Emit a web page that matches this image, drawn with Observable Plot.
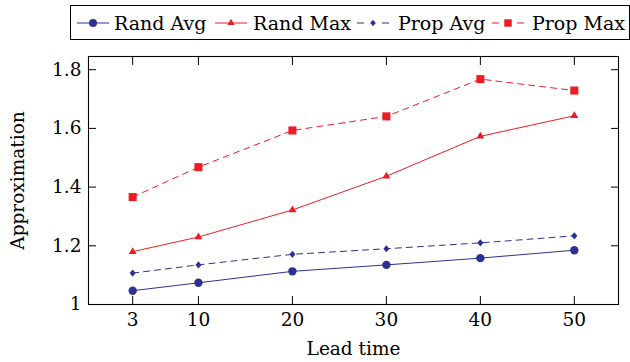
<!DOCTYPE html>
<html><head><meta charset="utf-8">
<script src="https://cdn.jsdelivr.net/npm/d3@7"></script>
<script src="https://cdn.jsdelivr.net/npm/@observablehq/plot@0.6"></script>
<style>
html,body{margin:0;padding:0;background:#fff;overflow:hidden}
#wrap{position:relative;width:630px;height:362px;font-family:"DejaVu Serif",serif}
#legend{position:absolute;left:70px;top:5px;width:560px;height:35px;border:1.3px solid #000;box-sizing:border-box}
.lg-text{position:absolute;top:5px;font-size:19px;line-height:24px;white-space:nowrap;color:#000;font-family:"DejaVu Serif",serif}
.lg-sample{position:absolute;top:10px}
#chart{position:absolute;left:0;top:45px}
</style></head>
<body><div id="wrap"><div id="legend"></div><div id="chart"></div></div>
<script>
// ---- data ----
const leadTimes = [3, 10, 20, 30, 40, 50];
const seriesNames = ["Rand Avg", "Rand Max", "Prop Avg", "Prop Max"];
const randAvg = [1.047, 1.074, 1.113, 1.135, 1.158, 1.185];
const randMax = [1.18, 1.23, 1.322, 1.437, 1.573, 1.643];
const propAvg = [1.107, 1.135, 1.171, 1.19, 1.21, 1.234];
const propMax = [1.366, 1.468, 1.593, 1.641, 1.768, 1.729];
const yTicks = [1, 1.2, 1.4, 1.6, 1.8];
const xTicks = [3, 10, 20, 30, 40, 50];

// ---- styles ----
const BLUE = "#2e3192", RED = "#ed1c24";
const sqSym = {draw(ctx, size){const r = Math.sqrt(size/Math.PI)*0.96; ctx.rect(-r,-r,2*r,2*r);}};
const triSym = {draw(ctx, size){const r = Math.sqrt(size/Math.PI)*1.08; ctx.moveTo(0,-r); ctx.lineTo(r*0.866,r*0.5); ctx.lineTo(-r*0.866,r*0.5); ctx.closePath();}};
const diaSym = {draw(ctx, size){const r = Math.sqrt(size/Math.PI); ctx.moveTo(0,-r*0.85); ctx.lineTo(r*0.72,0); ctx.lineTo(0,r*0.85); ctx.lineTo(-r*0.72,0); ctx.closePath();}};
const styles = [
  {values: randAvg, color: BLUE, dash: null, symbol: "circle", r: 4.2},
  {values: randMax, color: RED, dash: null, symbol: triSym, r: 4.2},
  {values: propAvg, color: BLUE, dash: "6,5", symbol: diaSym, r: 4.2},
  {values: propMax, color: RED, dash: "6,5", symbol: sqSym, r: 4.2}
];

const marks = [];
styles.forEach((s, i) => {
  const rows = leadTimes.map((x, j) => ({x, y: s.values[j], series: seriesNames[i]}));
  marks.push(Plot.line(rows, {x: "x", y: "y", stroke: s.color, strokeWidth: 1, strokeDasharray: s.dash}));
  marks.push(Plot.dot(rows, {x: "x", y: "y", fill: s.color, stroke: "none", symbol: s.symbol, r: s.r}));
});

const chart = Plot.plot({
  width: 630, height: 317,
  marginLeft: 88, marginRight: 12, marginTop: 11, marginBottom: 58,
  style: {fontFamily: "'DejaVu Serif', serif", fontSize: "18.5px", background: "#fff", color: "#000"},
  x: {domain: [-1.7, 54.7]},
  y: {domain: [1, 1.845]},
  marks: [
    ...marks,
    Plot.frame({stroke: "#000", strokeWidth: 1.1}),
    Plot.axisX(xTicks, {anchor: "bottom", tickSize: 8, text: null, label: null, dy: -8, stroke: "#000"}),
    Plot.axisX(xTicks, {anchor: "top", tickSize: 8, text: null, label: null, dy: 8, stroke: "#000"}),
    Plot.axisY(yTicks, {anchor: "left", tickSize: 8, text: null, label: null, dx: 8, stroke: "#000"}),
    Plot.axisY(yTicks, {anchor: "right", tickSize: 8, text: null, label: null, dx: -8, stroke: "#000"}),
    Plot.axisX(xTicks, {anchor: "bottom", tickSize: 0, tickPadding: 8, label: "Lead time", labelAnchor: "center", labelOffset: 50, labelArrow: "none"}),
    Plot.axisY(yTicks, {anchor: "left", tickSize: 0, tickPadding: 7, tickFormat: d => d === 1 ? "1" : d.toFixed(1), label: "Approximation", labelAnchor: "center", labelOffset: 78, labelArrow: "none"})
  ]
});
document.getElementById("chart").appendChild(chart);

// ---- legend (HTML) ----
const legend = document.getElementById("legend");
const centers = [93, 231, 373, 508];
const textLefts = [114, 253, 398, 532];
const ns = "http://www.w3.org/2000/svg";
styles.forEach((s, i) => {
  const svg = document.createElementNS(ns, "svg");
  svg.setAttribute("width", 34); svg.setAttribute("height", 14);
  svg.setAttribute("class", "lg-sample");
  svg.style.left = (centers[i] - 17 - 71) + "px";
  const line = document.createElementNS(ns, "line");
  line.setAttribute("x1", 1); line.setAttribute("x2", 33); line.setAttribute("y1", 7); line.setAttribute("y2", 7);
  line.setAttribute("stroke", s.color); line.setAttribute("stroke-width", 1);
  if (s.dash) line.setAttribute("stroke-dasharray", "7,18");
  svg.appendChild(line);
  const p = document.createElementNS(ns, "path");
  const path = d3.path();
  const size = Math.PI * s.r * s.r;
  if (s.symbol === "circle") { path.arc(0, 0, s.r*0.95, 0, 2*Math.PI); }
  else s.symbol.draw(path, size*0.85);
  p.setAttribute("d", path.toString());
  p.setAttribute("transform", "translate(17,7)");
  p.setAttribute("fill", s.color);
  svg.appendChild(p);
  legend.appendChild(svg);
  const t = document.createElement("div");
  t.className = "lg-text";
  t.style.left = (textLefts[i] - 71) + "px";
  t.textContent = seriesNames[i];
  legend.appendChild(t);
});
</script></body></html>
